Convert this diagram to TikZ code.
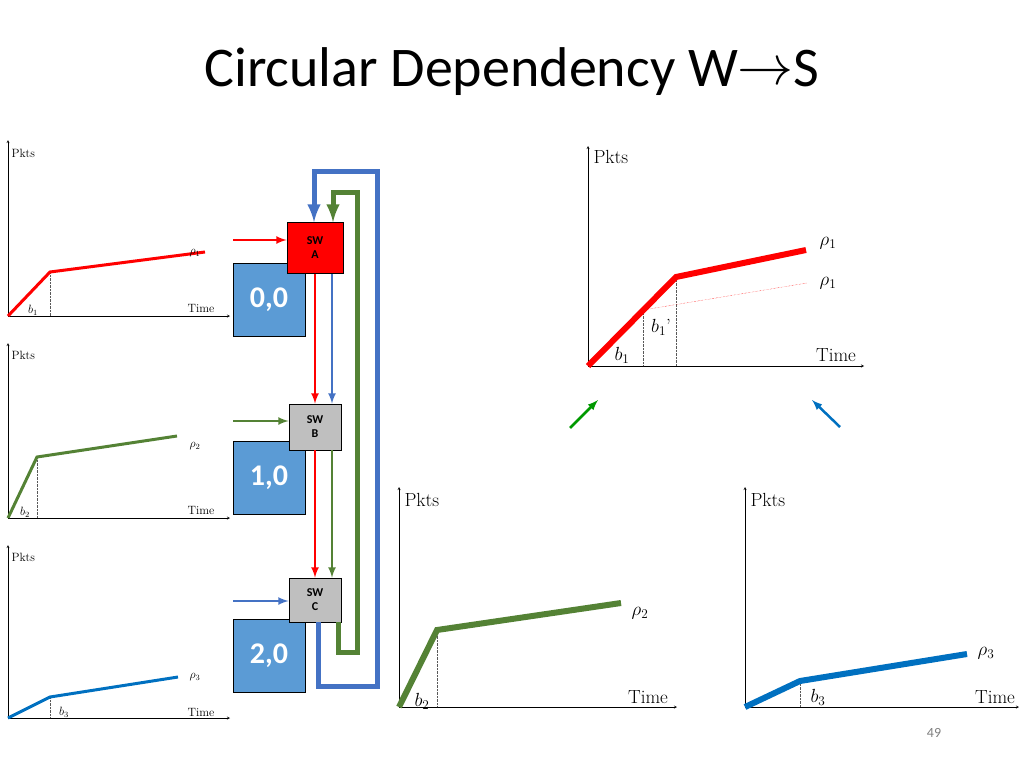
\RequirePackage{fix-cm}
\documentclass[tikz,border=0pt]{standalone}
\usepackage{fontspec}
\newfontfamily\calibri{Carlito}
\usetikzlibrary{positioning}
\definecolor{swred}{RGB}{255,0,0}
\definecolor{wgreen}{RGB}{84,130,53}
\definecolor{wblue}{RGB}{68,114,196}
\definecolor{hostblue}{RGB}{91,155,213}
\definecolor{curveblue}{RGB}{0,112,192}
\tikzset{
  axis/.style={-stealth,thin},
  guide/.style={densely dotted,thin,gray!70!black},
  sw/.style={draw,thick,fill=gray!50,minimum width=52pt,minimum height=46pt,font=\calibri\bfseries\fontsize{12}{14}\selectfont,align=center},
  host/.style={draw,thick,fill=hostblue,minimum width=72pt,minimum height=73pt,text=white,font=\calibri\bfseries\fontsize{30}{32}\selectfont},
  flow/.style={-latex,line width=2.5pt},
  loop/.style={-latex,line width=5pt},
  small/.style={font=\fontsize{12}{14}\selectfont},
  big/.style={font=\fontsize{19}{22}\selectfont}
}
\begin{document}
\begin{tikzpicture}[x=1pt,y=-1pt]
\useasboundingbox (0,0) rectangle (1024,768);
\node[font=\calibri\fontsize{56}{60}\selectfont] (title) at (512,72) {Circular Dependency W\raisebox{2pt}{$\rightarrow$}S};
\node[text=gray,font=\calibri\fontsize{14}{16}\selectfont] (page) at (934,733) {49};

% small charts
\draw[axis] (8,316) -- (8,140);
\draw[axis] (8,316) -- (230,316);
\draw[guide] (50,272) -- (50,316);
\draw[swred,line width=3pt] (8,316) -- (50,272) -- (205,252);
\node[small,anchor=west] (pktsa) at (8,153) {Pkts};
\node[small] (rhoa) at (195,253) {$\rho_1$};
\node[small] (ba) at (33,310) {$b_1$};
\node[small] (timea) at (201,308) {Time};

\draw[axis] (8,518) -- (8,343);
\draw[axis] (8,518) -- (230,518);
\draw[guide] (37,457) -- (37,518);
\draw[wgreen,line width=3pt] (8,518) -- (37,457) -- (177,436);
\node[small,anchor=west] (pktsb) at (8,355) {Pkts};
\node[small] (rhob) at (195,446) {$\rho_2$};
\node[small] (bb) at (25,512) {$b_2$};
\node[small] (timeb) at (201,510) {Time};

\draw[axis] (8,718) -- (8,545);
\draw[axis] (8,718) -- (230,718);
\draw[guide] (50,697) -- (50,718);
\draw[curveblue,line width=3pt] (8,718) -- (50,697) -- (178,677);
\node[small,anchor=west] (pktsc) at (8,557) {Pkts};
\node[small] (rhoc) at (195,677) {$\rho_3$};
\node[small] (bc) at (64,712) {$b_3$};
\node[small] (timec) at (201,712) {Time};

% large charts
\draw[axis] (588,366) -- (588,146);
\draw[axis] (588,366) -- (864,366);
\draw[guide] (643,310) -- (643,366);
\draw[guide] (676,277) -- (676,366);
\draw[swred,densely dotted,thin] (643,310) -- (807,283);
\draw[swred,line width=6pt] (588,366) -- (676,277) -- (806,250);
\node[big,anchor=west] (pktsd) at (590,157) {Pkts};
\node[big] (rhod) at (828,243) {$\rho_1$};
\node[big] (rhoe) at (828,283) {$\rho_1$};
\node[big] (bd) at (661,327) {$b_1$'};
\node[big] (be) at (622,355) {$b_1$};
\node[big] (timed) at (836,355) {Time};

\draw[axis] (399,707) -- (399,487);
\draw[axis] (399,707) -- (677,707);
\draw[guide] (437,630) -- (437,707);
\draw[wgreen,line width=6pt] (399,707) -- (437,630) -- (621,603);
\node[big,anchor=west] (pktsf) at (401,500) {Pkts};
\node[big] (rhof) at (640,613) {$\rho_2$};
\node[big] (bf) at (422,701) {$b_2$};
\node[big] (timef) at (648,697) {Time};

\draw[axis] (745,707) -- (745,487);
\draw[axis] (745,707) -- (1019,707);
\draw[guide] (800,681) -- (800,707);
\draw[curveblue,line width=6pt] (745,707) -- (800,681) -- (967,654);
\node[big,anchor=west] (pktsg) at (747,500) {Pkts};
\node[big] (rhog) at (986,653) {$\rho_3$};
\node[big] (bg) at (818,697) {$b_3$};
\node[big] (timeg) at (995,697) {Time};

\coordinate (ga) at (570,428);
\coordinate (gb) at (598,400);
\coordinate (ba1) at (840,427);
\coordinate (ba2) at (812,400);
\draw[-latex,line width=2.5pt,green!60!black] (ga) -- (gb);
\draw[-latex,line width=2.5pt,curveblue] (ba1) -- (ba2);

% hosts and switches
\node[host] (h0) at (269,300) {0,0};
\node[host] (h1) at (269,478) {1,0};
\node[host] (h2) at (269,656) {2,0};
\node[sw,fill=swred,minimum width=56pt,minimum height=51pt] (swa) at (315,248) {SW\\A};
\node[sw] (swb) at (315,427) {SW\\B};
\node[sw,minimum height=44pt] (swc) at (315,600) {SW\\C};

\coordinate (ina) at (233,240);
\coordinate (inb) at (233,421);
\coordinate (inc) at (233,601);
\draw[flow,swred] (ina) -- (ina -| swa.west);
\draw[flow,wgreen] (inb) -- (inb -| swb.west);
\draw[flow,wblue] (inc) -- (inc -| swc.west);

\draw[flow,swred] (swa.south) -- (swb.north);
\draw[flow,swred] (swb.south) -- (swc.north);
\draw[flow,wblue] ([xshift=17pt]swa.south) -- ([xshift=17pt]swb.north);
\draw[flow,wgreen] ([xshift=17pt]swb.south) -- ([xshift=17pt]swc.north);

\draw[loop,wblue] ([xshift=3pt]swc.south) |- (377,686) |- (314,171) -- ([xshift=-1pt]swa.north);
\draw[loop,wgreen] ([xshift=23pt]swc.south) |- (357,652) |- (333,192) -- ([xshift=18pt]swa.north);
\end{tikzpicture}
\end{document}
